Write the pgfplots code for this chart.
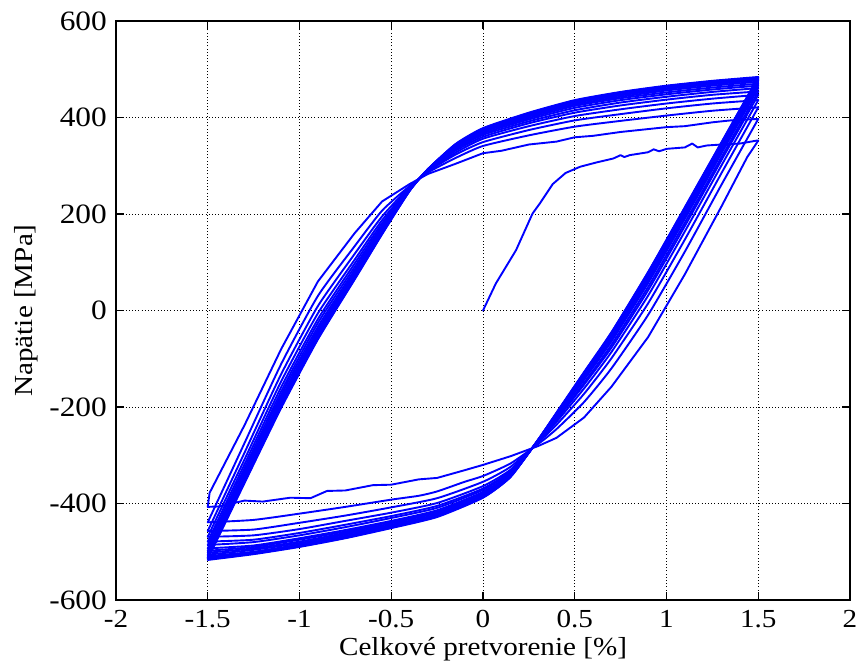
\documentclass[border=0pt]{standalone}
\usepackage{fontspec}
\setmainfont{Liberation Serif}[FakeStretch=1.12]
\usepackage{pgfplots}
\pgfplotsset{compat=1.18}
\tikzset{hl/.style={color={rgb,255:red,0;green,0;blue,255}, line width=1.9pt, line join=round, line cap=round, mark=none}}
\tikzset{hs/.style={hl, smooth, tension=0.35}}
\begin{document}
\begin{tikzpicture}
\begin{axis}[
  scale only axis,
  width=734pt, height=579pt,
  xmin=-2, xmax=2, ymin=-600, ymax=600,
  xtick={-2,-1.5,-1,-0.5,0,0.5,1,1.5,2},
  xticklabels={-2,-1.5,-1,-0.5,0,0.5,1,1.5,2},
  ytick={-600,-400,-200,0,200,400,600},
  yticklabels={-600,-400,-200,0,200,400,600},
  tick align=inside,
  major tick length=8pt,
  every tick/.style={black, line width=1.2pt},
  axis line style={black, line width=1.5pt},
  grid=major,
  major grid style={black, line width=0.9pt, dash pattern=on 0.9pt off 2.3pt},
  xticklabel style={font=\fontsize{26}{30}\selectfont, black, anchor=base, yshift=-27pt, inner sep=0.5pt},
  yticklabel style={font=\fontsize{28}{32}\selectfont, black, inner sep=0.5pt, xshift=-8.5pt},
  xlabel style={font=\fontsize{26}{30}\selectfont, black, at={(axis description cs:0.5,-0.0967)}, anchor=base, inner sep=0.5pt},
  ylabel style={font=\fontsize{26}{30}\selectfont, black, at={(axis description cs:-0.1144,0.5)}, anchor=base},
  xlabel={Celkové pretvorenie [\%]},
  ylabel={Napätie [MPa]},
]
% initial loading
\addplot[hl] coordinates {(0,0) (0.07,56) (0.18,125) (0.27,201) (0.31,222) (0.38,262) (0.45,285) (0.53,298) (0.62,307) (0.71,315) (0.75,322) (0.77,318) (0.8,322) (0.9,328) (0.93,334) (0.96,330) (1.0,335) (1.1,338) (1.14,346) (1.17,338) (1.22,342) (1.3,344) (1.4,346) (1.49,352) (1.5,352)};
% first unloading / compression
\addplot[hl] coordinates {(1.5,352) (1.44,318) (1.3,216) (1.1,75) (0.9,-55) (0.7,-158) (0.55,-222) (0.4,-264) (0.3,-281) (0.15,-302) (0,-320) (-0.1,-331) (-0.25,-347) (-0.35,-350) (-0.5,-361) (-0.6,-362) (-0.75,-373) (-0.85,-374) (-0.94,-389) (-1.05,-388) (-1.2,-396) (-1.3,-394) (-1.37,-400) (-1.43,-406) (-1.5,-407)};
\addplot[hl] coordinates {(-1.5,-407) (-1.49,-378) (-1.3,-238) (-1.1,-80) (-0.9,60) (-0.7,160) (-0.55,226) (-0.4,262) (-0.3,283) (-0.15,304) (0,326) (0.1,331) (0.25,344) (0.4,350) (0.5,359) (0.6,362) (0.75,370) (0.9,376) (1.0,380) (1.1,382) (1.25,390) (1.35,394) (1.5,397)};
% cycles
\addplot[hs] coordinates {(1.5,397) (1.3,261) (1.1,122) (0.9,-9) (0.7,-120) (0.55,-190) (0.4,-246) (0.3,-277) (0.15,-317) (0,-343) (-0.1,-355) (-0.25,-375) (-0.35,-384) (-0.5,-392) (-0.75,-407) (-1.0,-421) (-1.25,-434) (-1.5,-439)};
\addplot[hs] coordinates {(-1.5,-439) (-1.3,-275) (-1.1,-111) (-0.9,30) (-0.7,133) (-0.55,207) (-0.4,258) (-0.3,286) (-0.15,316) (0,341) (0.25,363) (0.5,381) (0.75,393) (1.0,404) (1.25,414) (1.5,421)};
\addplot[hs] coordinates {(1.5,421) (1.3,285) (1.1,147) (0.9,15) (0.7,-99) (0.55,-173) (0.4,-237) (0.3,-274) (0.15,-324) (0,-355) (-0.25,-389) (-0.5,-408) (-0.75,-425) (-1.0,-440) (-1.25,-454) (-1.5,-457)};
\addplot[hs] coordinates {(-1.5,-457) (-1.3,-295) (-1.1,-132) (-0.9,9) (-0.7,117) (-0.55,195) (-0.4,256) (-0.3,288) (-0.15,323) (0,349) (0.25,374) (0.5,394) (0.75,407) (1.0,419) (1.25,429) (1.5,436)};
\addplot[hs] coordinates {(1.5,436) (1.3,301) (1.1,164) (0.9,31) (0.7,-86) (0.55,-162) (0.4,-231) (0.3,-273) (0.15,-330) (0,-364) (-0.25,-399) (-0.5,-419) (-0.75,-436) (-1.0,-453) (-1.25,-466) (-1.5,-469)};
\addplot[hs] coordinates {(-1.5,-469) (-1.3,-309) (-1.1,-147) (-0.9,-6) (-0.7,105) (-0.55,187) (-0.4,254) (-0.3,289) (-0.15,327) (0,356) (0.25,382) (0.5,403) (0.75,417) (1.0,429) (1.25,439) (1.5,447)};
\addplot[hs] coordinates {(1.5,447) (1.3,312) (1.1,175) (0.9,42) (0.7,-77) (0.55,-154) (0.4,-227) (0.3,-272) (0.15,-333) (0,-369) (-0.25,-405) (-0.5,-426) (-0.75,-444) (-1.0,-461) (-1.25,-475) (-1.5,-479)};
\addplot[hs] coordinates {(-1.5,-479) (-1.3,-319) (-1.1,-159) (-0.9,-18) (-0.7,97) (-0.55,181) (-0.4,253) (-0.3,290) (-0.15,331) (0,360) (0.25,388) (0.5,410) (0.75,425) (1.0,437) (1.25,447) (1.5,454)};
\addplot[hs] coordinates {(1.5,454) (1.3,318) (1.1,182) (0.9,49) (0.7,-71) (0.55,-150) (0.4,-224) (0.3,-271) (0.15,-335) (0,-372) (-0.25,-409) (-0.5,-430) (-0.75,-449) (-1.0,-466) (-1.25,-480) (-1.5,-486)};
\addplot[hs] coordinates {(-1.5,-486) (-1.3,-327) (-1.1,-168) (-0.9,-26) (-0.7,90) (-0.55,176) (-0.4,252) (-0.3,290) (-0.15,334) (0,364) (0.25,392) (0.5,415) (0.75,431) (1.0,443) (1.25,453) (1.5,461)};
\addplot[hs] coordinates {(1.5,461) (1.3,326) (1.1,190) (0.9,57) (0.7,-64) (0.55,-144) (0.4,-221) (0.3,-270) (0.15,-338) (0,-376) (-0.25,-414) (-0.5,-436) (-0.75,-455) (-1.0,-472) (-1.25,-487) (-1.5,-493)};
\addplot[hs] coordinates {(-1.5,-493) (-1.3,-334) (-1.1,-175) (-0.9,-34) (-0.7,84) (-0.55,172) (-0.4,251) (-0.3,291) (-0.15,336) (0,367) (0.25,396) (0.5,420) (0.75,436) (1.0,448) (1.25,458) (1.5,466)};
\addplot[hs] coordinates {(1.5,466) (1.3,330) (1.1,195) (0.9,61) (0.7,-61) (0.55,-141) (0.4,-219) (0.3,-270) (0.15,-339) (0,-378) (-0.25,-417) (-0.5,-438) (-0.75,-458) (-1.0,-475) (-1.25,-490) (-1.5,-498)};
\addplot[hs] coordinates {(-1.5,-498) (-1.3,-340) (-1.1,-182) (-0.9,-40) (-0.7,79) (-0.55,169) (-0.4,250) (-0.3,291) (-0.15,338) (0,370) (0.25,399) (0.5,424) (0.75,440) (1.0,452) (1.25,462) (1.5,470)};
\addplot[hs] coordinates {(1.5,470) (1.3,334) (1.1,199) (0.9,65) (0.7,-57) (0.55,-138) (0.4,-218) (0.3,-269) (0.15,-340) (0,-381) (-0.25,-419) (-0.5,-441) (-0.75,-461) (-1.0,-479) (-1.25,-493) (-1.5,-502)};
\addplot[hs] coordinates {(-1.5,-502) (-1.3,-344) (-1.1,-187) (-0.9,-45) (-0.7,76) (-0.55,166) (-0.4,250) (-0.3,292) (-0.15,340) (0,372) (0.25,402) (0.5,427) (0.75,443) (1.0,456) (1.25,466) (1.5,474)};
\addplot[hs] coordinates {(1.5,474) (1.3,338) (1.1,203) (0.9,69) (0.7,-54) (0.55,-136) (0.4,-216) (0.3,-269) (0.15,-342) (0,-383) (-0.25,-422) (-0.5,-444) (-0.75,-464) (-1.0,-482) (-1.25,-496) (-1.5,-506)};
\addplot[hs] coordinates {(-1.5,-506) (-1.3,-348) (-1.1,-191) (-0.9,-49) (-0.7,72) (-0.55,164) (-0.4,249) (-0.3,292) (-0.15,342) (0,374) (0.25,404) (0.5,430) (0.75,446) (1.0,459) (1.25,469) (1.5,477)};
\addplot[hs] coordinates {(1.5,477) (1.3,342) (1.1,207) (0.9,73) (0.7,-51) (0.55,-133) (0.4,-215) (0.3,-269) (0.15,-343) (0,-385) (-0.25,-424) (-0.5,-447) (-0.75,-467) (-1.0,-485) (-1.25,-500) (-1.5,-509)};
\addplot[hs] coordinates {(-1.5,-509) (-1.3,-352) (-1.1,-195) (-0.9,-53) (-0.7,69) (-0.55,162) (-0.4,249) (-0.3,293) (-0.15,343) (0,375) (0.25,406) (0.5,432) (0.75,448) (1.0,461) (1.25,471) (1.5,479)};
\addplot[hs] coordinates {(1.5,479) (1.3,344) (1.1,208) (0.9,75) (0.7,-50) (0.55,-132) (0.4,-214) (0.3,-269) (0.15,-343) (0,-385) (-0.25,-425) (-0.5,-447) (-0.75,-468) (-1.0,-486) (-1.25,-501) (-1.5,-512)};
\addplot[hs] coordinates {(-1.5,-512) (-1.3,-355) (-1.1,-198) (-0.9,-56) (-0.7,67) (-0.55,160) (-0.4,248) (-0.3,293) (-0.15,344) (0,376) (0.25,408) (0.5,434) (0.75,451) (1.0,463) (1.25,473) (1.5,481)};
\addplot[hs] coordinates {(1.5,481) (1.3,346) (1.1,211) (0.9,77) (0.7,-47) (0.55,-130) (0.4,-213) (0.3,-268) (0.15,-344) (0,-387) (-0.25,-426) (-0.5,-449) (-0.75,-470) (-1.0,-488) (-1.25,-503) (-1.5,-513)};
\addplot[hs] coordinates {(-1.5,-513) (-1.3,-356) (-1.1,-200) (-0.9,-58) (-0.7,65) (-0.55,159) (-0.4,248) (-0.3,293) (-0.15,344) (0,377) (0.25,409) (0.5,435) (0.75,452) (1.0,465) (1.25,475) (1.5,483)};
\addplot[hs] coordinates {(1.5,483) (1.3,348) (1.1,213) (0.9,79) (0.7,-46) (0.55,-129) (0.4,-213) (0.3,-268) (0.15,-345) (0,-387) (-0.25,-427) (-0.5,-450) (-0.75,-471) (-1.0,-489) (-1.25,-504) (-1.5,-515)};
\addplot[hs] coordinates {(-1.5,-515) (-1.3,-358) (-1.1,-202) (-0.9,-60) (-0.7,64) (-0.55,158) (-0.4,248) (-0.3,293) (-0.15,345) (0,378) (0.25,410) (0.5,436) (0.75,453) (1.0,466) (1.25,476) (1.5,484)};
\addplot[hs] coordinates {(1.5,484) (1.3,349) (1.1,214) (0.9,80) (0.7,-45) (0.55,-128) (0.4,-212) (0.3,-268) (0.15,-345) (0,-388) (-0.25,-428) (-0.5,-451) (-0.75,-472) (-1.0,-490) (-1.25,-505) (-1.5,-517)};
\end{axis}
\pgfresetboundingbox
\useasboundingbox ([shift={(-116pt,-71pt)}]current axis.south west) rectangle ([shift={(8pt,21pt)}]current axis.north east);
\end{tikzpicture}
\end{document}
